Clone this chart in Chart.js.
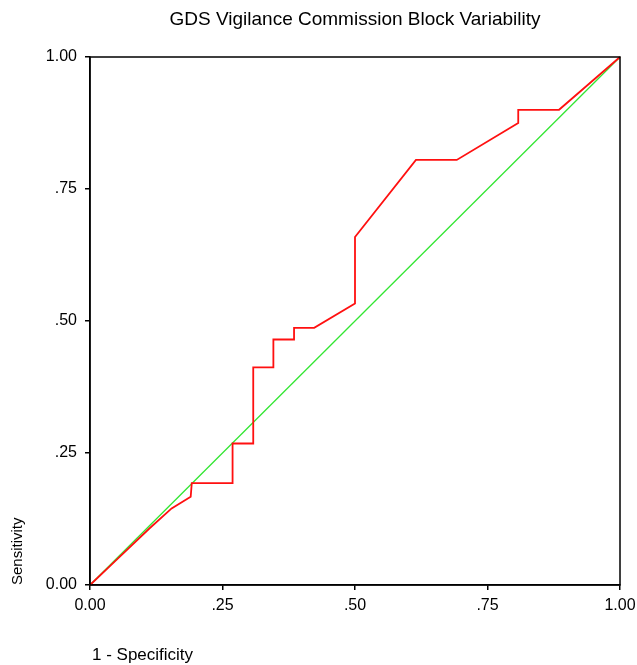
<!DOCTYPE html>
<html>
<head>
<meta charset="utf-8">
<script src="https://cdn.jsdelivr.net/npm/chart.js@4"></script>
<style>
  body { margin: 0; background: #fff; }
  #wrap { width: 637px; height: 665px; }
</style>
</head>
<body>
<div id="wrap"><canvas id="roc" width="637" height="665"></canvas></div>
<script>
// Data
const fpr = [0, 0.040, 0.112, 0.154, 0.190, 0.192, 0.269, 0.269, 0.308, 0.308, 0.346, 0.346,
             0.385, 0.385, 0.423, 0.500, 0.500, 0.615, 0.692, 0.808, 0.808, 0.885, 1];
const tpr = [0, 0.038, 0.107, 0.145, 0.167, 0.193, 0.193, 0.268, 0.268, 0.412, 0.412, 0.465,
             0.465, 0.487, 0.487, 0.533, 0.659, 0.805, 0.805, 0.875, 0.900, 0.900, 1];
const refX = [0, 1];
const refY = [0, 1];
const tickValues = [0, 0.25, 0.5, 0.75, 1];
const tickLabels = ['0.00', '.25', '.50', '.75', '1.00'];

const titleText = 'GDS Vigilance Commission Block Variability';
const xTitle = '1 - Specificity';
const yTitle = 'Sensitivity';
const FONT = '"Liberation Sans", Arial, sans-serif';

function tickLabel(v) {
    const i = tickValues.indexOf(Math.round(v * 100) / 100);
    return i >= 0 ? tickLabels[i] : '';
}

// frame around the plot + titles in SPSS-like positions
const framePlugin = {
    id: 'frame',
    afterDraw(chart) {
        const { ctx, chartArea: a } = chart;
        ctx.save();
        ctx.strokeStyle = '#000';
        ctx.lineWidth = 1.5;
        ctx.strokeRect(a.left, a.top, a.right - a.left, a.bottom - a.top);

        ctx.fillStyle = '#000';
        ctx.font = '19px ' + FONT;
        ctx.textAlign = 'center';
        ctx.textBaseline = 'middle';
        ctx.fillText(titleText, 355, 20);

        ctx.font = '17px ' + FONT;
        ctx.textAlign = 'left';
        ctx.fillText(xTitle, 92, 655);

        ctx.font = '15px ' + FONT;
        ctx.translate(18, 585);
        ctx.rotate(-Math.PI / 2);
        ctx.fillText(yTitle, 0, 0);
        ctx.restore();
    }
};

const axisCommon = {
    type: 'linear',
    min: 0,
    max: 1,
    grid: { drawOnChartArea: false, drawTicks: true, tickLength: 5, color: '#000', lineWidth: 1.5 },
    border: { display: true, color: '#000', width: 1.5 },
    ticks: {
        stepSize: 0.25,
        color: '#000',
        font: { family: FONT, size: 16 },
        padding: 6,
        maxRotation: 0,
        callback: v => tickLabel(v)
    }
};

new Chart(document.getElementById('roc'), {
    type: 'scatter',
    data: {
        datasets: [
            {
                label: 'ROC',
                data: fpr.map((x, i) => ({ x, y: tpr[i] })),
                showLine: true,
                borderColor: '#ff1010',
                borderWidth: 1.8,
                pointRadius: 0,
                tension: 0,
                clip: false
            },
            {
                label: 'Reference',
                data: refX.map((x, i) => ({ x, y: refY[i] })),
                showLine: true,
                borderColor: '#33e633',
                borderWidth: 1.3,
                pointRadius: 0,
                clip: false
            }
        ]
    },
    options: {
        responsive: false,
        animation: false,
        layout: { padding: { top: 57, right: 17, left: 0, bottom: 0 } },
        plugins: { legend: { display: false }, tooltip: { enabled: false } },
        scales: {
            x: Object.assign({}, axisCommon, {
                afterFit: s => { s.height = 80; s.paddingLeft = 0; s.paddingRight = 0; },
                afterBuildTicks: s => { s.ticks = tickValues.map(v => ({ value: v })); }
            }),
            y: Object.assign({}, axisCommon, {
                ticks: Object.assign({}, axisCommon.ticks, { padding: 8 }),
                afterFit: s => { s.width = 90; s.paddingTop = 0; s.paddingBottom = 0; },
                afterBuildTicks: s => { s.ticks = tickValues.map(v => ({ value: v })); }
            })
        }
    },
    plugins: [framePlugin]
});
</script>
</body>
</html>
